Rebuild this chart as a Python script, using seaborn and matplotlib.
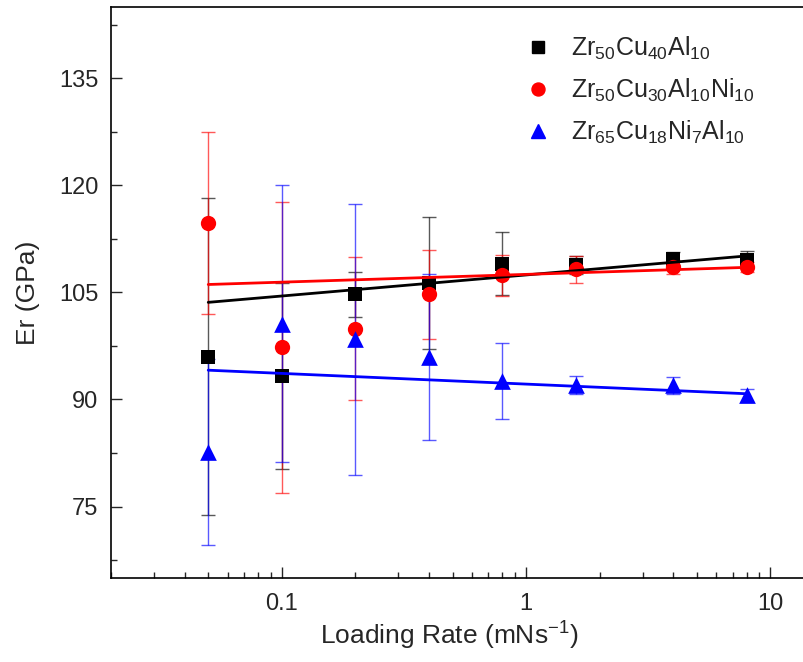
import numpy as np
import pandas as pd
import matplotlib
matplotlib.use("Agg")
import matplotlib.pyplot as plt
from matplotlib.ticker import MultipleLocator, LogLocator, FixedLocator, FixedFormatter, NullFormatter
import seaborn as sns

# ---- data ----
rates = [0.05, 0.1, 0.2, 0.4, 0.8, 1.6, 4, 8]

er_a = [96.0, 93.3, 104.7, 106.3, 109.0, 108.8, 109.7, 109.6]
err_a = [22.2, 13.0, 3.1, 9.3, 4.4, 1.3, 0.9, 1.2]

er_b = [114.7, 97.3, 99.9, 104.7, 107.4, 108.2, 108.6, 108.5]
err_b = [12.7, 20.4, 10.0, 6.3, 2.9, 1.9, 1.0, 0.7]

er_c = [82.6, 100.6, 98.4, 95.9, 92.6, 92.0, 92.0, 90.6]
err_c = [13.0, 19.4, 19.0, 11.6, 5.3, 1.3, 1.2, 0.9]

fit_x = [0.05, 8]
fit_a = [103.6, 110.1]
fit_b = [106.1, 108.5]
fit_c = [94.1, 90.8]

labels = [r"Zr$_{50}$Cu$_{40}$Al$_{10}$",
          r"Zr$_{50}$Cu$_{30}$Al$_{10}$Ni$_{10}$",
          r"Zr$_{65}$Cu$_{18}$Ni$_{7}$Al$_{10}$"]

y_ticks = [75, 90, 105, 120, 135]
x_ticks = [0.1, 1, 10]
x_ticklabels = ["0.1", "1", "10"]

# ---- style ----
sns.set_style("ticks")
plt.rcParams["font.family"] = ["Liberation Sans", "DejaVu Sans"]
plt.rcParams["mathtext.fontset"] = "custom"
plt.rcParams["mathtext.rm"] = "Liberation Sans"
plt.rcParams["mathtext.it"] = "Liberation Sans:italic"
plt.rcParams["mathtext.bf"] = "Liberation Sans:bold"
plt.rcParams["mathtext.default"] = "regular"

fig = plt.figure(figsize=(8.04, 6.62), dpi=100)
ax = fig.add_axes([111 / 804, 84 / 662, 733 / 804, 571.3 / 662])

series = [
    (er_a, err_a, fit_a, "black", "s", 10.0),
    (er_b, err_b, fit_b, "red", "o", 11.0),
    (er_c, err_c, fit_c, "blue", "^", 12.0),
]

handles = []
for (vals, errs, fit, col, mk, ms), lab in zip(series, labels):
    ax.errorbar(rates, vals, yerr=errs, fmt="none", ecolor=col, elinewidth=1.0,
                capsize=5, capthick=1.0, alpha=0.65, zorder=2)
    df = pd.DataFrame({"rate": rates, "er": vals})
    sns.scatterplot(data=df, x="rate", y="er", ax=ax, marker=mk, color=col,
                    s=ms ** 2, edgecolor=col, linewidth=0, zorder=3)
    fdf = pd.DataFrame({"rate": fit_x, "er": fit})
    sns.lineplot(data=fdf, x="rate", y="er", ax=ax, color=col, linewidth=2.0,
                 zorder=4, legend=False)
    handles.append(plt.Line2D([], [], linestyle="none", marker=mk, color=col,
                              markersize=ms * 0.85, label=lab))

ax.set_xscale("log")
ax.set_xlim(0.02, 20)
ax.set_ylim(65, 145)

ax.yaxis.set_major_locator(FixedLocator(y_ticks))
ax.yaxis.set_minor_locator(MultipleLocator(7.5))
ax.xaxis.set_major_locator(FixedLocator(x_ticks))
ax.xaxis.set_major_formatter(FixedFormatter(x_ticklabels))
ax.xaxis.set_minor_locator(LogLocator(base=10, subs=np.arange(2, 10)))
ax.xaxis.set_minor_formatter(NullFormatter())

ax.tick_params(axis="both", which="major", direction="in", length=7.7, width=1.0,
               labelsize=17, top=False, right=False)
ax.tick_params(axis="x", which="major", pad=11)
ax.tick_params(axis="y", which="major", pad=9)
ax.tick_params(axis="both", which="minor", direction="in", length=4.3, width=1.0,
               top=False, right=False)
for s in ax.spines.values():
    s.set_linewidth(1.2)
    s.set_color("black")

ax.set_xlabel(r"Loading Rate (mNs$^{-1}$)", fontsize=19)
ax.set_ylabel("Er (GPa)", fontsize=19)
ax.xaxis.set_label_coords((449 - 111) / 733, -(620 - 578) / 571.3)
ax.yaxis.set_label_coords((40 - 111) / 733, 0.5)

ax.legend(handles=handles, loc="upper left", frameon=False, fontsize=18,
          bbox_to_anchor=(526 / 804, 1 - 35 / 662), bbox_transform=fig.transFigure,
          borderaxespad=0, borderpad=0, handlelength=1.0, handletextpad=0.8,
          labelspacing=0.58)

fig.savefig("out.png", dpi=100)
